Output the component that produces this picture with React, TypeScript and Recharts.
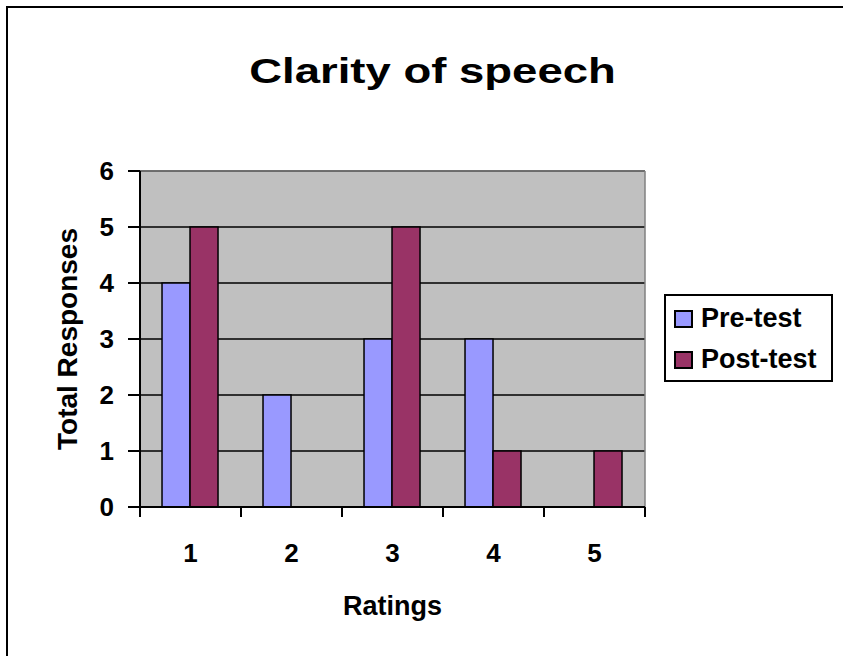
import React from 'react';
import {
  BarChart, Bar, XAxis, YAxis, CartesianGrid, Legend, ReferenceLine, Label,
} from 'recharts';

const ratings = ['1', '2', '3', '4', '5'];
const preTest = [4, 2, 3, 3, 0];
const postTest = [5, 0, 5, 1, 1];
const yTicks = [0, 1, 2, 3, 4, 5, 6];
const edgeTicks = [0, 1, 2, 3, 4, 5];
const seriesNames = ['Pre-test', 'Post-test'];
const seriesColors = ['#9999FF', '#993366'];

const FONT = '"Liberation Sans", Arial, sans-serif';

// slot = middle of each category on a 0..5 numeric scale, used only for the boundary tick axis
const data = ratings.map((r, i) => ({ rating: r, slot: i + 0.5, pre: preTest[i], post: postTest[i] }));

const LegendBox = () => (
  <div
    style={{
      boxSizing: 'border-box',
      width: 169,
      height: 88,
      border: '2px solid #000',
      background: '#fff',
      paddingTop: 2,
      paddingLeft: 8,
      fontFamily: FONT,
      fontWeight: 'bold',
      fontSize: 27,
    }}
  >
    {seriesNames.map((name, i) => (
      <div key={name} style={{ height: 41, display: 'flex', alignItems: 'center' }}>
        <span
          style={{
            display: 'inline-block',
            boxSizing: 'border-box',
            width: 19,
            height: 18,
            background: seriesColors[i],
            border: '2px solid #000',
            marginRight: 8,
          }}
        />
        <span>{name}</span>
      </div>
    ))}
  </div>
);

const YTitle = ({ viewBox }: any) => (
  <text
    x={viewBox.x + 27}
    y={viewBox.y + viewBox.height / 2}
    transform={`rotate(-90 ${viewBox.x + 27} ${viewBox.y + viewBox.height / 2})`}
    textAnchor="middle"
    fontFamily={FONT}
    fontWeight="bold"
    fontSize={28}
    fill="#000"
  >
    Total Responses
  </text>
);

const NoLabel = () => <g />;

const tickStyle = { fontFamily: FONT, fontWeight: 'bold', fontSize: 26, fill: '#000' };

export default function App() {
  return (
    <div style={{ position: 'absolute', left: 0, top: 0, width: 843, height: 656, overflow: 'hidden', background: '#fff' }}>
      <div
        style={{
          position: 'absolute', left: 6, top: 6, width: 900, height: 700,
          border: '2px solid #000',
        }}
      />
      <div
        style={{
          position: 'absolute', left: 20, top: 53, width: 825, textAlign: 'center',
          fontFamily: FONT, fontWeight: 'bold', fontSize: 35, lineHeight: '35px',
          transform: 'scaleX(1.3)', transformOrigin: 'center',
        }}
      >
        Clarity of speech
      </div>
      <div style={{ position: 'absolute', left: 0, top: 0 }}>
        <BarChart
          width={843}
          height={656}
          data={data}
          margin={{ top: 171, right: 198, left: 50, bottom: 38 }}
          barCategoryGap="21.8%"
          barGap={0}
        >
          <CartesianGrid xAxisId={1} vertical={false} stroke="#000" strokeWidth={1.3} fill="#C0C0C0" fillOpacity={1} />
          {/* boundary ticks between categories, like the spreadsheet axis */}
          <XAxis
            xAxisId={0}
            dataKey="slot"
            type="number"
            domain={[0, 5]}
            ticks={edgeTicks}
            interval={0}
            allowDataOverflow
            height={1}
            tick={<NoLabel />}
            tickSize={10}
            axisLine={{ stroke: '#000', strokeWidth: 2 }}
            tickLine={{ stroke: '#000', strokeWidth: 2 }}
          />
          <XAxis
            xAxisId={1}
            dataKey="rating"
            height={110}
            axisLine={false}
            tickLine={false}
            tickSize={6}
            tickMargin={30}
            tick={tickStyle}
          >
            <Label
              value="Ratings"
              position="insideBottom"
              offset={3}
              style={{ fontFamily: FONT, fontWeight: 'bold', fontSize: 27, fill: '#000' }}
            />
          </XAxis>
          <YAxis
            width={90}
            domain={[0, 6]}
            ticks={yTicks}
            interval={0}
            tickSize={12}
            tickMargin={14}
            tick={tickStyle}
            axisLine={{ stroke: '#000', strokeWidth: 2 }}
            tickLine={{ stroke: '#000', strokeWidth: 2 }}
          >
            <Label content={<YTitle />} />
          </YAxis>
          <Legend
            layout="vertical"
            align="center"
            verticalAlign="middle"
            wrapperStyle={{ left: 664, top: 294, width: 169, height: 88 }}
            content={<LegendBox />}
          />
          <Bar xAxisId={1} dataKey="pre" name={seriesNames[0]} fill={seriesColors[0]} stroke="#000" strokeWidth={1.5} isAnimationActive={false} />
          <Bar xAxisId={1} dataKey="post" name={seriesNames[1]} fill={seriesColors[1]} stroke="#000" strokeWidth={1.5} isAnimationActive={false} />
          <ReferenceLine xAxisId={1} y={6} stroke="#808080" strokeWidth={1.5} />
          <ReferenceLine xAxisId={0} x={5} stroke="#808080" strokeWidth={1.5} />
        </BarChart>
      </div>
    </div>
  );
}
